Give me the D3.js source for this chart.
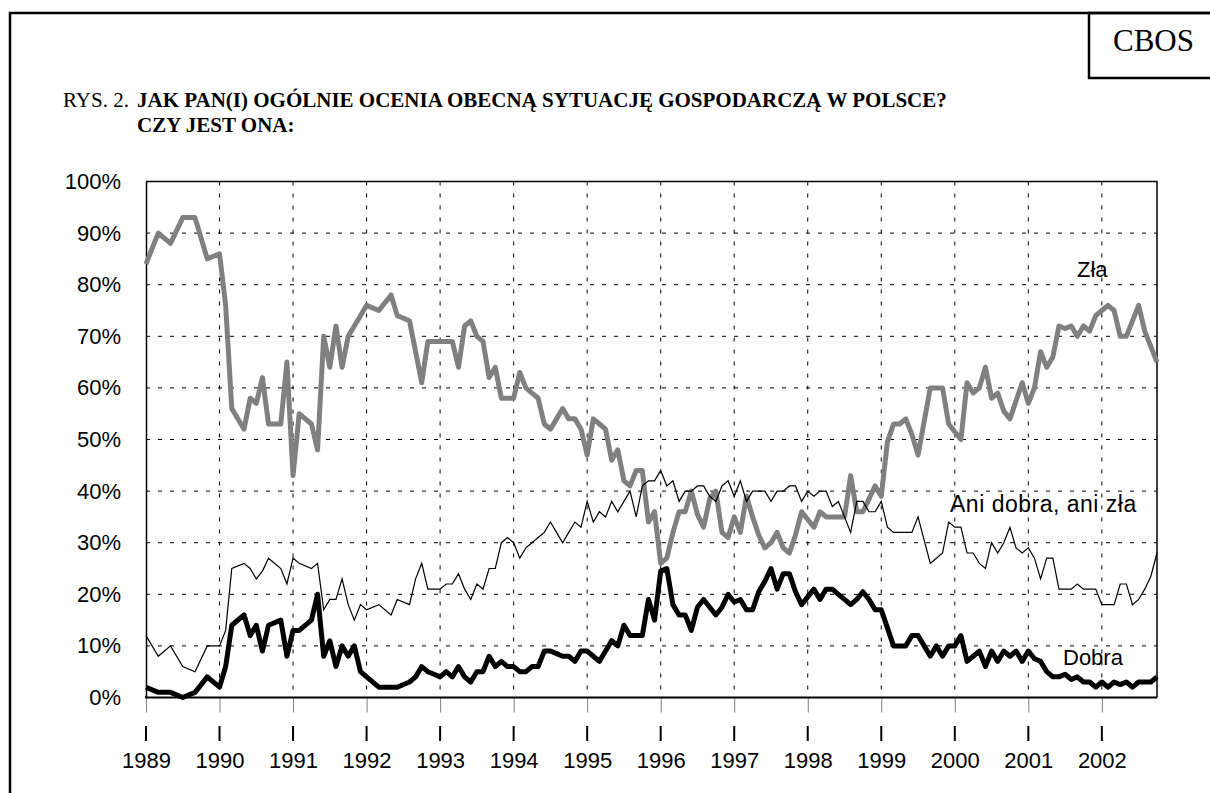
<!DOCTYPE html>
<html><head><meta charset="utf-8">
<script src="https://cdn.jsdelivr.net/npm/d3@7"></script>
<style>body{margin:0;background:#fff;} svg{display:block;}</style>
</head><body>
<svg id="chart" width="1210" height="793"></svg>
<script>
// months since January 1989 (survey dates)
const months = [0,2,4,6,8,10,12,13,14,16,17,18,19,20,22,23,24,25,27,28,29,30,31,32,33,34,35,36,38,40,41,43,44,45,46,47,
  48,49,50,51,52,53,54,55,56,57,58,59,60,61,62,63,64,65,66,67,68,69,70,71,72,73,74,75,76,77,78,79,80,81,82,83,
  84,85,86,87,88,89,90,91,92,93,94,95,96,97,98,99,100,101,102,103,104,105,106,107,108,109,110,111,112,113,114,115,
  116,117,118,119,120,121,122,123,124,125,126,127,128,129,130,131,132,133,134,135,136,137,138,139,140,141,142,143,
  144,145,146,147,148,149,150,151,152,153,154,155,156,157,158,159,160,161,162,163,164,165];

const zla = [84,90,88,93,93,85,86,76,56,52,58,57,62,53,53,65,43,55,53,48,70,64,72,64,70,72,74,76,75,78,74,73,67,61,69,69,
  69,69,69,64,72,73,70,69,62,64,58,58,
  58,63,60,59,58,53,52,54,56,54,54,52,
  47,54,53,52,46,48,42,41,44,44,34,36,
  26,27,32,36,36,40,35.5,33,38.5,40,32,31,
  35,32,39,35,31.5,29,30,32,29,28,31.5,36,
  34.5,33,36,35,35,35,35,43,36,36,38.5,41,
  39,49.5,53,53,54,51,47,53.5,60,60,60,53,
  51.5,50,61,59,60,64,58,59,55.5,54,57.5,61,
  57,60,67,64,66,72,71.5,72,70,72,71,74,
  75,76,75,70,70,73,76,71,68,65];

const ani = [12,8,10,6,5,10,10,13,25,26,25,23,24.5,27,25,22,27,26,25,26,17,19,19,23,18,15,18,17,18,16,19,18,23,26,21,21,
  21,22,22,24,21,19,22,21,25,25,30,31,
  30,27,29,30,31,32,34,32,30,32,34,33,
  38,34,36,35,38,36,38,40,35,41,42,42,
  44,41,42,38,40,40,41,41,39,38,41,42,
  39,42,38,40,40,40,38,40,40,41,41,38,
  40,39,40,40,37,38,35,32,38,38,36,36,
  38,33,32,32,32,32,35,30.5,26,27,28,34,
  33,33,28,28,26,25,30,28,30,33,29,28,
  29,27,23,27,27,21,21,21,22,21,21,21,
  18,18,18,22,22,18,19,21,23.5,28];

const dobra = [2,1,1,0,1,4,2,6,14,16,12,14,9,14,15,8,13,13,15,20,8,11,6,10,8,10,5,4,2,2,2,3,4,6,5,4.5,
  4,5,4,6,4,3,5,5,8,6,7,6,
  6,5,5,6,6,9,9,8.5,8,8,7,9,
  9,8,7,9,11,10,14,12,12,12,19,15,
  24.5,25,18,16,16,13,17.5,19,17.5,16,17.5,20,
  18.5,19,17,17,20.5,22.5,25,21,24,24,20.5,18,
  19.5,21,19,21,21,20,19,18,19,20.5,19,17,
  17,13.5,10,10,10,12,12,10,8,10,8,10,
  10,12,7,8,9,6,9,7,9,8,9,7,
  9,7.5,7,5,4,4,4.5,3.5,4,3,3,2,
  3,2,3,2.5,3,2,3,3,3,4];

const yearLabels = ["1989","1990","1991","1992","1993","1994","1995","1996","1997","1998","1999","2000","2001","2002"];
const yTicks = [0,10,20,30,40,50,60,70,80,90,100];
const gridY = [10,20,30,40,50,60,70,80,90];

const svg = d3.select("#chart");
const sans = "'Liberation Sans', Arial, sans-serif";
const serif = "'Liberation Serif', 'Times New Roman', serif";

const x = d3.scaleLinear().domain([0, 165]).range([146, 1157]);
const y = d3.scaleLinear().domain([0, 100]).range([697.5, 181.5]);
const yearPos = yearLabels.map((d, i) => i * 12);

// outer frame
svg.append("rect").attr("x", 10).attr("y", 13).attr("width", 1300).attr("height", 900)
  .attr("fill", "none").attr("stroke", "#000").attr("stroke-width", 2.5);
// CBOS box
svg.append("rect").attr("x", 1089).attr("y", 13).attr("width", 300).attr("height", 65)
  .attr("fill", "none").attr("stroke", "#000").attr("stroke-width", 2.5);
svg.append("text").attr("x", 1113).attr("y", 51).attr("font-family", serif).attr("font-size", 31)
  .text("CBOS");

// title
const t1 = svg.append("text").attr("x", 63).attr("y", 107).attr("font-family", serif).attr("font-size", 21);
t1.append("tspan").text("RYS. 2.");
t1.append("tspan").attr("x", 137).attr("font-weight", "bold")
  .text("JAK PAN(I) OGÓLNIE OCENIA OBECNĄ SYTUACJĘ GOSPODARCZĄ W POLSCE?");
svg.append("text").attr("x", 137).attr("y", 132).attr("font-family", serif).attr("font-size", 21)
  .attr("font-weight", "bold").text("CZY JEST ONA:");

// grid
const g = svg.append("g");
g.selectAll("line.hg").data(gridY).join("line").attr("class", "hg")
  .attr("x1", x(0)).attr("x2", x(165)).attr("y1", d => y(d)).attr("y2", d => y(d))
  .attr("stroke", "#000").attr("stroke-width", 1).attr("stroke-dasharray", "4,8");
g.selectAll("line.vg").data(yearPos.slice(1)).join("line").attr("class", "vg")
  .attr("x1", d => x(d)).attr("x2", d => x(d)).attr("y1", y(100)).attr("y2", y(0))
  .attr("stroke", "#000").attr("stroke-width", 1).attr("stroke-dasharray", "4,8");

// plot border (top, right)
svg.append("path").attr("d", `M${x(0)},${y(100)}H${x(165)}V${y(0)}`)
  .attr("fill", "none").attr("stroke", "#000").attr("stroke-width", 1.5);

// x-axis ticks (gray, below axis)
const xTicks = svg.append("g").attr("transform", `translate(0,${y(0)})`)
  .call(d3.axisBottom(x).tickValues(yearPos).tickFormat("").tickSize(15));
xTicks.select(".domain").remove();
xTicks.selectAll("line").attr("stroke", "#808080").attr("stroke-width", 1);

// x-axis labels
const xLab = svg.append("g").attr("transform", `translate(0,${y(0)})`)
  .call(d3.axisBottom(x).tickValues(yearPos).tickFormat((d, i) => yearLabels[i]).tickSize(0).tickPadding(55));
xLab.select(".domain").remove();
xLab.selectAll("text").attr("font-family", sans).attr("font-size", 22).attr("fill", "#000");

// black marks above year labels
svg.append("g").selectAll("line").data(yearPos).join("line")
  .attr("x1", d => x(d)).attr("x2", d => x(d)).attr("y1", 726).attr("y2", 741)
  .attr("stroke", "#000").attr("stroke-width", 2);

// y-axis
const yAx = svg.append("g").attr("transform", `translate(${x(0)},0)`)
  .call(d3.axisLeft(y).tickValues(yTicks).tickFormat(d => d + "%").tickSize(0).tickPadding(25));
yAx.select(".domain").attr("stroke", "#000").attr("stroke-width", 1.5);
yAx.selectAll("text").attr("font-family", sans).attr("font-size", 22).attr("fill", "#000");

// x-axis line
svg.append("line").attr("x1", x(0) - 1).attr("x2", x(165)).attr("y1", y(0)).attr("y2", y(0))
  .attr("stroke", "#000").attr("stroke-width", 2);

// series
const line = d3.line().x((d, i) => x(months[i])).y(d => y(d));
svg.append("path").datum(zla).attr("d", line).attr("fill", "none")
  .attr("stroke", "#808080").attr("stroke-width", 5).attr("stroke-linejoin", "round");
svg.append("path").datum(ani).attr("d", line).attr("fill", "none")
  .attr("stroke", "#000").attr("stroke-width", 1.2).attr("stroke-linejoin", "miter");
svg.append("path").datum(dobra).attr("d", line).attr("fill", "none")
  .attr("stroke", "#000").attr("stroke-width", 5).attr("stroke-linejoin", "round");

// series labels
const lab = svg.append("g").attr("font-family", sans).attr("font-size", 22).attr("fill", "#000");
lab.append("text").attr("x", 1077).attr("y", 277).text("Zła");
lab.append("text").attr("x", 950).attr("y", 512).attr("font-size", 23)
  .attr("letter-spacing", 0.5).text("Ani dobra, ani zła");
lab.append("text").attr("x", 1063).attr("y", 665).text("Dobra");
</script>
</body></html>
